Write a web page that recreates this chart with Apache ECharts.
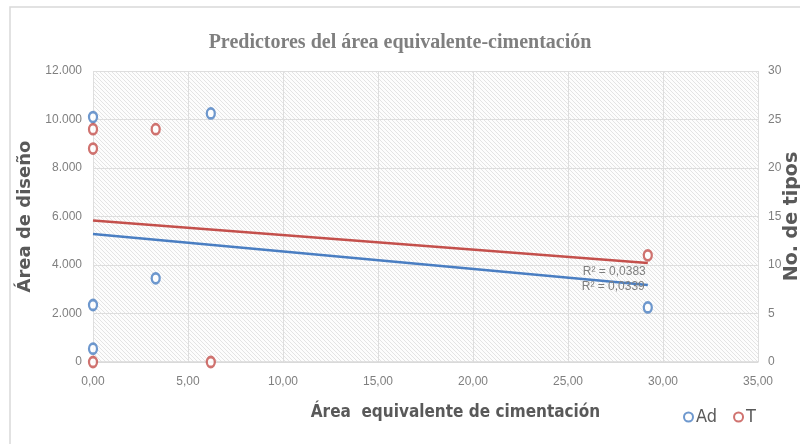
<!DOCTYPE html>
<html>
<head>
<meta charset="utf-8">
<script src="https://cdn.jsdelivr.net/npm/echarts@6/dist/echarts.min.js"></script>
<style>
  html, body { margin: 0; padding: 0; background: #fff; }
  #chart { width: 800px; height: 444px; }
</style>
</head>
<body>
<div id="chart"></div>
<script>
// puntos: [área equivalente, valor]
const adPoints = [[0, 10100], [6.2, 10250], [0, 2350], [0, 550], [3.3, 3450], [29.2, 2250]];
const tPoints = [[0, 24], [0, 22], [3.3, 24], [0, 0], [6.2, 0], [29.2, 11]];
// líneas de tendencia (extremos leídos)
const adTrend = [[0, 5280], [29.2, 3180]];
const tTrend = [[0, 14.6], [29.2, 10.2]];
const r2Labels = ['R² = 0,0339', 'R² = 0,0383'];

const blue = '#4a7ec2';
const red = '#c4504c';
const grey = '#595959';

// fondo rayado del área de trazado
function hatch() {
  const c = document.createElement('canvas');
  c.width = 4; c.height = 4;
  const ctx = c.getContext('2d');
  ctx.fillStyle = '#fdfdfd';
  ctx.fillRect(0, 0, 4, 4);
  ctx.strokeStyle = '#e4e4e4';
  ctx.lineWidth = 1;
  ctx.beginPath();
  ctx.moveTo(0, 0); ctx.lineTo(4, 4);
  ctx.moveTo(-1, 3); ctx.lineTo(1, 5);
  ctx.moveTo(3, -1); ctx.lineTo(5, 1);
  ctx.stroke();
  return c;
}

function trendData(points, text) {
  return points.map((p, i) => {
    if (i < points.length - 1) return { value: p };
    return {
      value: p,
      label: { show: true, formatter: text }
    };
  });
}

const chart = echarts.init(document.getElementById('chart'));
const narrow = '"DejaVu Sans Condensed", sans-serif';
const small = '"Liberation Sans", Arial, sans-serif';

let option = {
  animation: false,
  title: {
    text: 'Predictores del área equivalente-cimentación',
    left: 'center',
    top: 28,
    textStyle: {
      fontFamily: '"Liberation Serif", serif',
      fontWeight: 'bold',
      fontSize: 20,
      color: '#7f7f7f'
    }
  },
  graphic: [{
    type: 'rect',
    shape: { x: 10, y: 7, width: 800, height: 450 },
    style: { fill: 'none', stroke: '#d9d9d9', lineWidth: 1.5 },
    z: -10
  }],
  legend: {
    left: 678,
    top: 403,
    itemWidth: 9,
    itemHeight: 10,
    itemGap: 16,
    data: ['Ad', 'T'],
    textStyle: { fontFamily: narrow, fontSize: 18, color: grey, padding: [0, 0, 0, -2] }
  },
  grid: {
    left: 93,
    right: 42,
    top: 71,
    bottom: 82,
    outerBoundsMode: 'none',
    containLabel: false,
    show: true,
    borderWidth: 0,
    backgroundColor: { image: hatch(), repeat: 'repeat' }
  },
  xAxis: {
    type: 'value',
    min: 0,
    max: 35,
    interval: 5,
    name: 'Área  equivalente de cimentación',
    nameLocation: 'middle',
    nameGap: 42,
    nameTextStyle: {
      fontFamily: narrow,
      fontWeight: 'bold',
      fontSize: 17,
      color: grey,
      padding: [0, 0, 0, 60]
    },
    axisLine: { show: true, lineStyle: { color: '#d9d9d9', width: 1.5 } },
    axisTick: { show: false },
    axisLabel: {
      margin: 14,
      fontFamily: small,
      fontSize: 12,
      color: '#7f7f7f',
      formatter: v => v.toFixed(2).replace('.', ',')
    },
    splitLine: { show: true, lineStyle: { color: '#dedede' } }
  },
  yAxis: [
    {
      type: 'value',
      min: 0,
      max: 12000,
      interval: 2000,
      name: 'Área de diseño',
      nameLocation: 'middle',
      nameGap: 47,
      nameRotate: 90,
      nameTextStyle: {
        fontFamily: '"DejaVu Sans", sans-serif',
        fontWeight: 'bold',
        fontSize: 18,
        color: grey
      },
      axisLine: { show: false },
      axisTick: { show: false },
      axisLabel: {
        margin: 11,
        fontFamily: small,
        fontSize: 12,
        color: '#7f7f7f',
        formatter: v => v.toLocaleString('de-DE')
      },
      splitLine: { show: true, lineStyle: { color: '#dedede' } }
    },
    {
      type: 'value',
      min: 0,
      max: 30,
      interval: 5,
      position: 'right',
      name: 'No. de tipos',
      nameLocation: 'middle',
      nameGap: 25,
      nameMoveOverlap: false,
      nameRotate: 90,
      nameTextStyle: {
        fontFamily: '"DejaVu Sans", sans-serif',
        fontWeight: 'bold',
        fontSize: 19,
        color: grey,
        padding: [0, 0, 10, 0]
      },
      axisLine: { show: false },
      axisTick: { show: false },
      axisLabel: {
        margin: 10,
        fontFamily: small,
        fontSize: 12,
        color: '#7f7f7f'
      },
      splitLine: { show: false }
    }
  ],
  series: [
    {
      name: 'Ad',
      type: 'scatter',
      yAxisIndex: 0,
      symbol: 'circle',
      symbolSize: [8, 10],
      itemStyle: { color: '#fff', borderColor: blue, borderWidth: 2.5 },
      data: adPoints,
      z: 5
    },
    {
      name: 'T',
      type: 'scatter',
      yAxisIndex: 1,
      symbol: 'circle',
      symbolSize: [8, 10],
      itemStyle: { color: '#fff', borderColor: red, borderWidth: 2.5 },
      data: tPoints,
      z: 5
    },
    {
      name: 'trendAd',
      type: 'line',
      yAxisIndex: 0,
      showSymbol: true,
      symbol: 'circle',
      symbolSize: 0.1,
      lineStyle: { color: blue, width: 2.5 },
      itemStyle: { color: blue },
      label: {
        position: [-66, 2],
        align: 'left',
        verticalAlign: 'middle',
        fontFamily: small,
        fontSize: 12,
        color: '#7f7f7f'
      },
      data: trendData(adTrend, r2Labels[0]),
      z: 3
    },
    {
      name: 'trendT',
      type: 'line',
      yAxisIndex: 1,
      showSymbol: true,
      symbol: 'circle',
      symbolSize: 0.1,
      lineStyle: { color: red, width: 2.5 },
      itemStyle: { color: red },
      label: {
        position: [-65, 9],
        align: 'left',
        verticalAlign: 'middle',
        fontFamily: small,
        fontSize: 12,
        color: '#7f7f7f'
      },
      data: trendData(tTrend, r2Labels[1]),
      z: 2
    }
  ]
};
chart.setOption(option);
</script>
</body>
</html>
